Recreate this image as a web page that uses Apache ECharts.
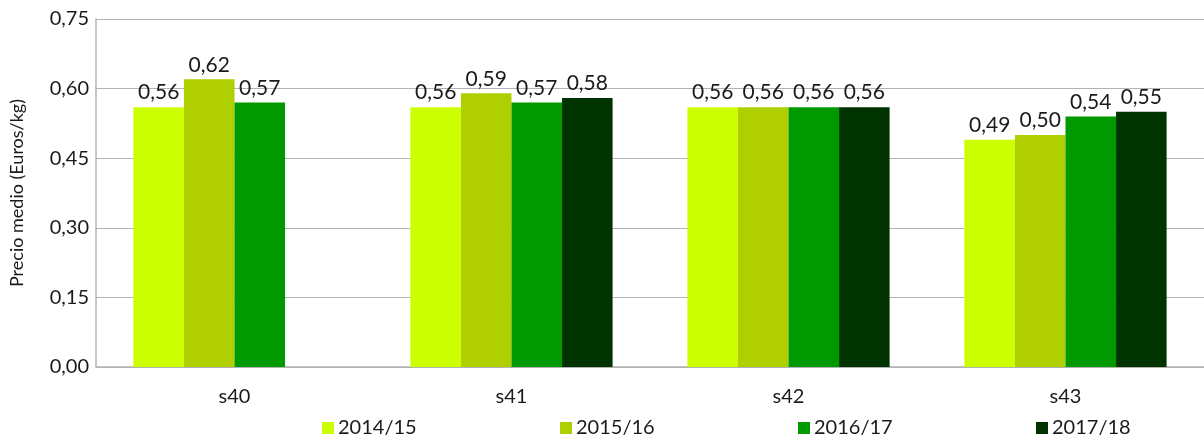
<!DOCTYPE html>
<html><head><meta charset="utf-8">
<script src="https://cdn.jsdelivr.net/npm/echarts@6/dist/echarts.min.js"></script>
<style>html,body{margin:0;padding:0;background:#fff}#c{width:1204px;height:436px}</style>
</head><body><div id="c"></div>
<script>
const categories = ['s40','s41','s42','s43'];
const seriesNames = ['2014/15','2015/16','2016/17','2017/18'];
const v2014 = [0.56, 0.56, 0.56, 0.49];
const v2015 = [0.62, 0.59, 0.56, 0.50];
const v2016 = [0.57, 0.57, 0.56, 0.54];
const v2017 = [null, 0.58, 0.56, 0.55];
const colors = ['#ccff00','#b0cf00','#009900','#003300'];
const yTicks = {min:0, max:0.75, interval:0.15};
const legendLefts = [317, 555, 793, 1031];
const font = 'Lato, "DejaVu Sans", sans-serif';
const fmt = v => v.toFixed(2).replace('.', ',');
const chart = echarts.init(document.getElementById('c'));
const data = [v2014, v2015, v2016, v2017];
chart.setOption({
  animation:false,
  color: colors,
  grid:{left:96, right:0, top:19, bottom:69, outerBoundsMode:'none', containLabel:false},
  legend: seriesNames.map((n,i)=>({left:legendLefts[i], top:413, itemWidth:12, itemHeight:12, icon:'rect', itemGap:0,
    textStyle:{fontSize:20, color:'#1a1a1a', fontFamily:font, padding:[0,0,0,-1]}, data:[n]})),
  xAxis:{type:'category', data:categories,
    axisLine:{lineStyle:{color:'#b3b3b3', width:1.5}}, axisTick:{show:false},
    axisLabel:{fontSize:20, color:'#1a1a1a', fontFamily:font, margin:20}},
  yAxis:{type:'value', min:yTicks.min, max:yTicks.max, interval:yTicks.interval,
    name:'Precio medio (Euros/kg)', nameLocation:'middle', nameGap:70, nameRotate:90,
    nameTextStyle:{fontSize:18, color:'#1a1a1a', fontFamily:font},
    axisLine:{show:true, lineStyle:{color:'#b3b3b3', width:1.5}}, axisTick:{show:false},
    splitLine:{lineStyle:{color:'#b3b3b3', width:1.2}},
    axisLabel:{fontSize:20, color:'#1a1a1a', fontFamily:font, margin:7, formatter: v => fmt(v)}},
  series: seriesNames.map((n,i)=>({
    name:n, type:'bar', data:data[i], barGap:'0%', barCategoryGap:'27%',
    label:{show:true, position:'top', distance:4, fontSize:21, color:'#1a1a1a', fontFamily:font,
      formatter:p => fmt(p.value)}
  }))
});
</script></body></html>
